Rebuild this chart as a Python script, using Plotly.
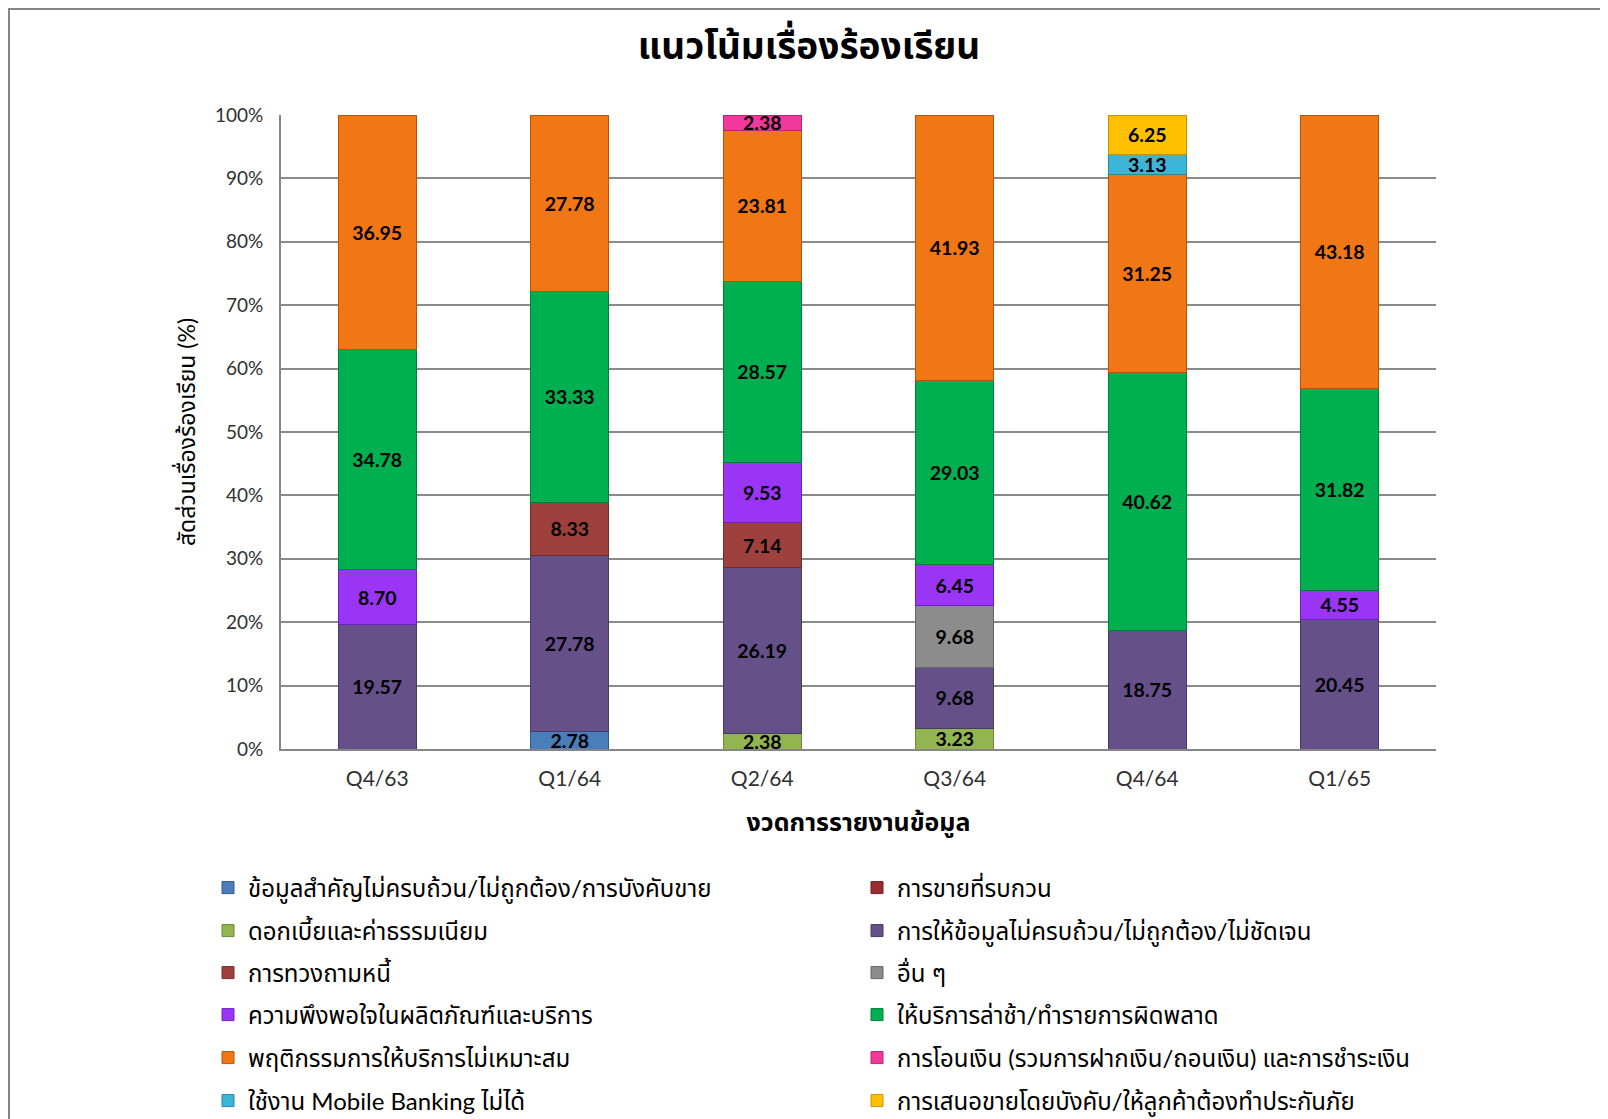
import plotly.graph_objects as go

categories = ["Q4/63", "Q1/64", "Q2/64", "Q3/64", "Q4/64", "Q1/65"]

series_names = [
    "ข้อมูลสำคัญไม่ครบถ้วน/ไม่ถูกต้อง/การบังคับขาย",
    "การขายที่รบกวน",
    "ดอกเบี้ยและค่าธรรมเนียม",
    "การให้ข้อมูลไม่ครบถ้วน/ไม่ถูกต้อง/ไม่ชัดเจน",
    "การทวงถามหนี้",
    "อื่น ๆ",
    "ความพึงพอใจในผลิตภัณฑ์และบริการ",
    "ให้บริการล่าช้า/ทำรายการผิดพลาด",
    "พฤติกรรมการให้บริการไม่เหมาะสม",
    "การโอนเงิน (รวมการฝากเงิน/ถอนเงิน) และการชำระเงิน",
    "ใช้งาน Mobile Banking ไม่ได้",
    "การเสนอขายโดยบังคับ/ให้ลูกค้าต้องทำประกันภัย",
]

key_info = [None, 2.78, None, None, None, None]
annoying_sales = [None, None, None, None, None, None]
interest_fees = [None, None, 2.38, 3.23, None, None]
info_incomplete = [19.57, 27.78, 26.19, 9.68, 18.75, 20.45]
debt_collection = [None, 8.33, 7.14, None, None, None]
others = [None, None, None, 9.68, None, None]
satisfaction = [8.70, None, 9.53, 6.45, None, 4.55]
slow_service = [34.78, 33.33, 28.57, 29.03, 40.62, 31.82]
behaviour = [36.95, 27.78, 23.81, 41.93, 31.25, 43.18]
transfer = [None, None, 2.38, None, None, None]
mobile_banking = [None, None, None, None, 3.13, None]
forced_sales = [None, None, None, None, 6.25, None]

series_values = [key_info, annoying_sales, interest_fees, info_incomplete,
                 debt_collection, others, satisfaction, slow_service,
                 behaviour, transfer, mobile_banking, forced_sales]

colors = ["#4A7EBB", "#9B2D30", "#92B550", "#66508A", "#9E413E", "#8C8C8C",
          "#9B35F5", "#00B050", "#F17614", "#F2389C", "#3DB5D6", "#FFC000"]
edge_colors = ["#2F5A8C", "#6E1E20", "#6B8A35", "#4A3966", "#722C2A", "#666666",
               "#7020C0", "#008038", "#B55408", "#B82574", "#2A879F", "#C79500"]

y_ticks = list(range(0, 101, 10))
y_tick_labels = [f"{v}%" for v in y_ticks]

FONT = "Lato, 'Noto Sans Thai', 'Noto Sans', 'DejaVu Sans', sans-serif"

# page body has an 8px margin, so the figure is drawn 8px in from the corner
W, H = 1600, 1111
L, R, T, B = 273, 1428, 107, 741
pw, ph = R - L, B - T


def px_x(x):
    return (x - L) / pw


def px_y(y):
    return (B - y) / ph


fig = go.Figure()

legend_rows = [880, 923, 965, 1007, 1050, 1093]
legend_cols = [200, 849]

for i, (name, vals) in enumerate(zip(series_names, series_values)):
    lname = "legend" if i == 0 else f"legend{i + 1}"
    fig.add_trace(go.Bar(
        x=categories, y=vals, name=name, showlegend=True,
        marker=dict(color=colors[i], line=dict(color=edge_colors[i], width=1)),
        texttemplate="%{y:.2f}", textposition="inside",
        insidetextanchor="middle",
        textfont=dict(family=FONT, size=19.5, color="black", weight="bold"),
        legend=lname,
    ))

layout_legends = {}
for i in range(len(series_names)):
    lname = "legend" if i == 0 else f"legend{i + 1}"
    row, col = divmod(i, 2)
    layout_legends[lname] = dict(
        x=px_x(legend_cols[col]), y=px_y(legend_rows[row]),
        xanchor="left", yanchor="middle", xref="paper", yref="paper",
        bgcolor="rgba(0,0,0,0)", borderwidth=0, visible=True,
        font=dict(family=FONT, size=24, color="black"),
    )

fig.update_layout(
    width=W, height=H, showlegend=True,
    margin=dict(l=L, r=W - R, t=T, b=H - B, autoexpand=False),
    barmode="stack", bargap=0.595,
    paper_bgcolor="white", plot_bgcolor="white",
    font=dict(family=FONT, color="black"),
    uniformtext=dict(minsize=19.5, mode="show"),
    title=dict(text="<b>แนวโน้มเรื่องร้องเรียน</b>", x=801 / W, xref="container",
               xanchor="center", y=1 - 38 / H, yref="container", yanchor="middle",
               font=dict(family=FONT, size=37, color="black")),
    xaxis=dict(
        showgrid=False, showline=True, linecolor="#868686", linewidth=2,
        ticks="", ticklabelstandoff=10,
        tickfont=dict(family=FONT, size=21, color="#303030"),
        title=dict(text="<b>งวดการรายงานข้อมูล</b>", standoff=24,
                   font=dict(family=FONT, size=25, color="black")),
    ),
    yaxis=dict(
        range=[0, 100], tickvals=y_ticks, ticktext=y_tick_labels,
        showgrid=True, gridcolor="#8A8A8A", gridwidth=1.5,
        showline=True, linecolor="#868686", linewidth=2,
        ticks="", ticklabelstandoff=12,
        tickfont=dict(family=FONT, size=19, color="#303030"),
        title=dict(text="สัดส่วนเรื่องร้องเรียน (%)", standoff=13,
                   font=dict(family=FONT, size=23, color="black")),
    ),
    shapes=[dict(type="rect", xref="paper", yref="paper",
                 x0=px_x(1), x1=px_x(W + 20), y0=px_y(H + 20), y1=px_y(1),
                 line=dict(color="#868686", width=2), fillcolor="rgba(0,0,0,0)",
                 layer="below")],
    **layout_legends,
)

fig.write_html("out.html")
